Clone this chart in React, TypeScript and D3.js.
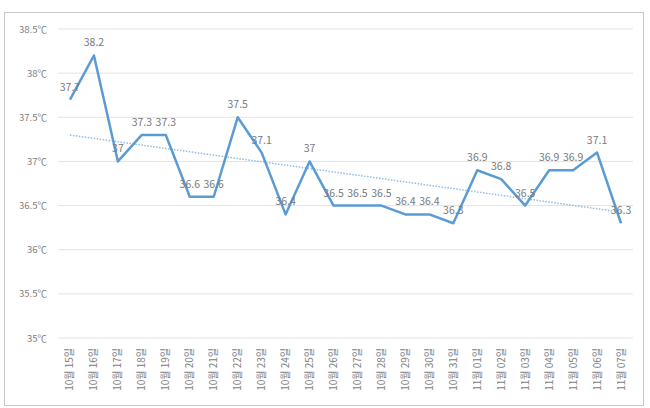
import * as d3 from "d3";

const days = [
  "10월 15일", "10월 16일", "10월 17일", "10월 18일", "10월 19일", "10월 20일",
  "10월 21일", "10월 22일", "10월 23일", "10월 24일", "10월 25일", "10월 26일",
  "10월 27일", "10월 28일", "10월 29일", "10월 30일", "10월 31일", "11월 01일",
  "11월 02일", "11월 03일", "11월 04일", "11월 05일", "11월 06일", "11월 07일",
];

const temps = [
  37.7, 38.2, 37, 37.3, 37.3, 36.6, 36.6, 37.5, 37.1, 36.4, 37, 36.5,
  36.5, 36.5, 36.4, 36.4, 36.3, 36.9, 36.8, 36.5, 36.9, 36.9, 37.1, 36.3,
];

const yTicks = [35, 35.5, 36, 36.5, 37, 37.5, 38, 38.5];

const W = 650;
const H = 408;
const plot = { left: 58, right: 633, top: 29, bottom: 338 };
const font = "'Noto Sans CJK KR', 'Noto Sans', sans-serif";

export default function App() {
  const x = d3.scaleBand<string>().domain(days).range([plot.left, plot.right]);
  const cx = (d: string) => (x(d) ?? 0) + x.bandwidth() / 2;
  const y = d3.scaleLinear().domain([35, 38.5]).range([plot.bottom, plot.top]);

  const line = d3
    .line<number>()
    .x((_, i) => cx(days[i]))
    .y((v) => y(v));

  // least-squares trend over the point index
  const idx = temps.map((_, i) => i);
  const mx = d3.mean(idx) ?? 0;
  const my = d3.mean(temps) ?? 0;
  const slope =
    d3.sum(idx, (i) => (i - mx) * (temps[i] - my)) / d3.sum(idx, (i) => (i - mx) ** 2);
  const trend = (i: number) => my + slope * (i - mx);
  const last = days.length - 1;

  return (
    <svg
      width={W}
      height={H}
      style={{ position: "absolute", left: 0, top: 0, background: "#fff" }}
      fontFamily={font}
    >
      <rect x={4.5} y={12.5} width={639} height={393} fill="#fff" stroke="#c8c8c8" />
      {yTicks.map((t) => (
        <g key={t}>
          <line x1={plot.left} x2={plot.right} y1={y(t)} y2={y(t)} stroke="#e3e3e3" />
          <text x={47} y={y(t) + 3.5} textAnchor="end" fontSize={9.5} fill="#808080">
            {`${t}℃`}
          </text>
        </g>
      ))}
      {days.map((d) => (
        <text
          key={d}
          transform={`translate(${cx(d) + 3.5},${plot.bottom + 10}) rotate(-90)`}
          textAnchor="end"
          fontSize={10}
          fill="#808080"
        >
          {d}
        </text>
      ))}
      <line
        x1={cx(days[0])}
        x2={cx(days[last])}
        y1={y(trend(0))}
        y2={y(trend(last))}
        stroke="#8fbde6"
        strokeWidth={1.5}
        strokeDasharray="1.5 1.5"
      />
      <path
        d={line(temps) ?? ""}
        fill="none"
        stroke="#5b9bd5"
        strokeWidth={2.5}
        strokeLinejoin="round"
      />
      {temps.map((v, i) => (
        <text
          key={i}
          x={cx(days[i])}
          y={y(v) - 9}
          textAnchor="middle"
          fontSize={10.5}
          fill="#7a7a7a"
        >
          {v}
        </text>
      ))}
    </svg>
  );
}
